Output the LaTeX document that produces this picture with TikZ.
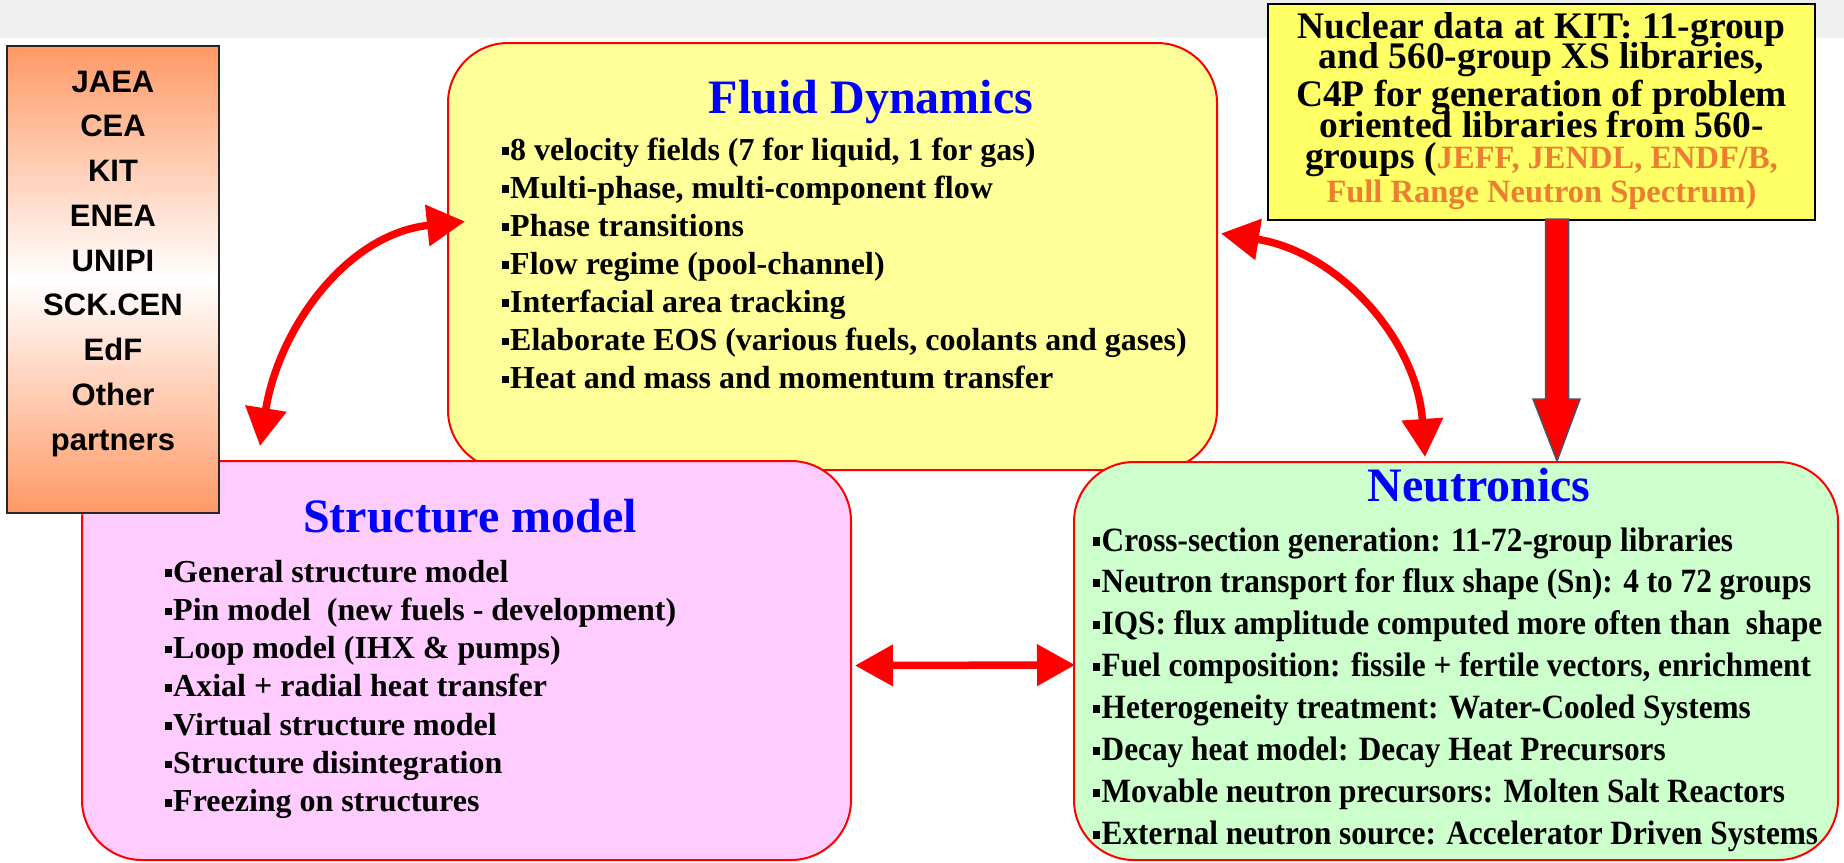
\documentclass[tikz,border=0pt]{standalone}
\usepackage{fontspec}
\setmainfont{Liberation Serif}
\newfontfamily\partnerfont{Liberation Sans}
\newfontfamily\neufont[FakeStretch=0.92]{Liberation Serif}
\usetikzlibrary{arrows.meta}

\definecolor{boxred}{RGB}{255,0,0}
\definecolor{fluidfill}{RGB}{255,255,153}
\definecolor{structfill}{RGB}{255,204,255}
\definecolor{neufill}{RGB}{204,255,204}
\definecolor{nucfill}{RGB}{255,255,102}
\definecolor{partnerorange}{RGB}{255,153,102}
\definecolor{libsorange}{RGB}{237,125,49}
\definecolor{topgrey}{RGB}{239,239,239}
\definecolor{titleblue}{RGB}{0,0,255}
\definecolor{arrowedge}{RGB}{68,84,106}

\newcommand{\sqbullet}{\rule[0.16em]{0.2em}{0.24em}\hspace{0.05em}}

\begin{document}
\begin{tikzpicture}[x=1pt,y=1pt,
    modelbox/.style={draw=boxred,line width=2pt,rounded corners=60pt,inner sep=0pt},
    titletext/.style={anchor=base,inner sep=0pt,text=titleblue,font=\fontsize{48}{56}\selectfont\bfseries},
    itemtext/.style={anchor=base west,inner sep=0pt,font=\fontsize{32}{38}\selectfont\bfseries},
    neutext/.style={anchor=base west,inner sep=0pt,font=\neufont\fontsize{34}{40}\selectfont\bfseries},
    nuctext/.style={anchor=base,inner sep=0pt,font=\fontsize{37.5}{40}\selectfont\bfseries},
    partnertext/.style={anchor=base,inner sep=0pt,font=\partnerfont\fontsize{31}{36}\selectfont\bfseries},
    bigarrow/.style={draw=boxred,line width=7.5pt,{Triangle[length=38pt,width=40pt]}-{Triangle[length=38pt,width=40pt]}}]
            \useasboundingbox (0,0) rectangle (1844,-862);
            \fill[topgrey] (0,0) rectangle (1844,-38);
            % the three model boxes
            \node[modelbox,fill=fluidfill,minimum width=769pt,minimum height=427pt] (fluid) at (832.5,-256.5) {};
            \node[modelbox,fill=structfill,minimum width=769pt,minimum height=399pt] (struct) at (466.5,-660.5) {};
            \node[modelbox,fill=neufill,minimum width=764pt,minimum height=398pt] (neut) at (1456,-661) {};
            % partners and nuclear data
            \node[draw=black!85,line width=2pt,minimum width=212pt,minimum height=467pt,
                top color=partnerorange,bottom color=partnerorange,middle color=white] (partners) at (113,-279.5) {};
            \node[draw=black,line width=2.5pt,fill=nucfill,minimum width=547pt,minimum height=216pt] (nuc) at (1541.5,-112) {};
            % fluid dynamics
            \node[titletext] (fluidtitle) at (871,-113) {Fluid Dynamics};
            \node[itemtext] (fl1) at (502,-160) {\sqbullet 8 velocity fields (7 for liquid, 1 for gas)};
            \node[itemtext] (fl2) at (502,-198) {\sqbullet Multi-phase, multi-component flow};
            \node[itemtext] (fl3) at (502,-236) {\sqbullet Phase transitions};
            \node[itemtext] (fl4) at (502,-274) {\sqbullet Flow regime (pool-channel)};
            \node[itemtext] (fl5) at (502,-312) {\sqbullet Interfacial area tracking};
            \node[itemtext] (fl6) at (502,-350.5) {\sqbullet Elaborate EOS (various fuels, coolants and gases)};
            \node[itemtext] (fl7) at (502,-388.5) {\sqbullet Heat and mass and momentum transfer};
            % structure model
            \node[titletext] (structtitle) at (470,-532) {Structure model};
            \node[itemtext] (st1) at (165,-582) {\sqbullet General structure model};
            \node[itemtext] (st2) at (165,-620.3) {\sqbullet Pin model\ \ (new fuels - development)};
            \node[itemtext] (st3) at (165,-658.6) {\sqbullet Loop model (IHX \& pumps)};
            \node[itemtext] (st4) at (165,-696.9) {\sqbullet Axial + radial heat transfer};
            \node[itemtext] (st5) at (165,-735.2) {\sqbullet Virtual structure model};
            \node[itemtext] (st6) at (165,-773.5) {\sqbullet Structure disintegration};
            \node[itemtext] (st7) at (165,-811.8) {\sqbullet Freezing on structures};
            % neutronics
            \node[titletext] (neutitle) at (1479,-501) {Neutronics};
            \node[neutext] (ne1) at (1093,-551) {\sqbullet Cross-section generation: 11-72-group libraries};
            \node[neutext] (ne2) at (1093,-592.9) {\sqbullet Neutron transport for flux shape (Sn): 4 to 72 groups};
            \node[neutext] (ne3) at (1093,-634.8) {\sqbullet IQS: flux amplitude computed more often than\ \ shape};
            \node[neutext] (ne4) at (1093,-676.7) {\sqbullet Fuel composition: fissile + fertile vectors, enrichment};
            \node[neutext] (ne5) at (1093,-718.6) {\sqbullet Heterogeneity treatment: Water-Cooled Systems};
            \node[neutext] (ne6) at (1093,-760.5) {\sqbullet Decay heat model: Decay Heat Precursors};
            \node[neutext] (ne7) at (1093,-802.4) {\sqbullet Movable neutron precursors: Molten Salt Reactors};
            \node[neutext] (ne8) at (1093,-844.3) {\sqbullet External neutron source: Accelerator Driven Systems};
            % nuclear data text
            \node[nuctext] (nuc1) at (1541.5,-38) {Nuclear data at KIT: 11-group};
            \node[nuctext] (nuc2) at (1541.5,-68) {and 560-group XS libraries,};
            \node[nuctext] (nuc3) at (1541.5,-106) {C4P for generation of problem};
            \node[nuctext] (nuc4) at (1541.5,-137) {oriented libraries from 560-};
            \node[nuctext] (nuc5) at (1541.5,-168) {groups (\textcolor{libsorange}{\fontsize{32.5}{36}\selectfont JEFF, JENDL, ENDF/B,}};
            \node[nuctext,text=libsorange,font=\fontsize{32.5}{36}\selectfont\bfseries] (nuc6) at (1541.5,-202) {Full Range Neutron Spectrum)};
            % partners list
            \node[partnertext] (p1) at (113,-92) {JAEA};
            \node[partnertext] (p2) at (113,-136.75) {CEA};
            \node[partnertext] (p3) at (113,-181.5) {KIT};
            \node[partnertext] (p4) at (113,-226.25) {ENEA};
            \node[partnertext] (p5) at (113,-271) {UNIPI};
            \node[partnertext] (p6) at (113,-315.75) {SCK.CEN};
            \node[partnertext] (p7) at (113,-360.5) {EdF};
            \node[partnertext] (p8) at (113,-405.25) {Other};
            \node[partnertext] (p9) at (113,-450) {partners};
            % arrows between the models
            \draw[bigarrow] ([xshift=179pt,yshift=14pt]struct.north west) to[out=81,in=186] ([xshift=18pt,yshift=35pt]fluid.west);
            \draw[bigarrow] ([xshift=3pt,yshift=23pt]fluid.east) to[out=-9,in=94] ([xshift=352pt,yshift=4pt]neut.north west);
            \draw[bigarrow] ([xshift=3pt,yshift=-5pt]struct.east) -- ([xshift=2pt,yshift=-4pt]neut.west);
            % block arrow from the nuclear data
            \coordinate (dtip) at ([xshift=15.5pt]nuc.south |- neut.north);
            \draw[fill=boxred,draw=arrowedge,line width=1.5pt,line join=miter] (dtip) -- ++(23,62) -- ++(-11.5,0) -- ++(0,180)
                -- ++(-23,0) -- ++(0,-180) -- ++(-12.5,0) -- cycle;
        \end{tikzpicture}
\end{document}
